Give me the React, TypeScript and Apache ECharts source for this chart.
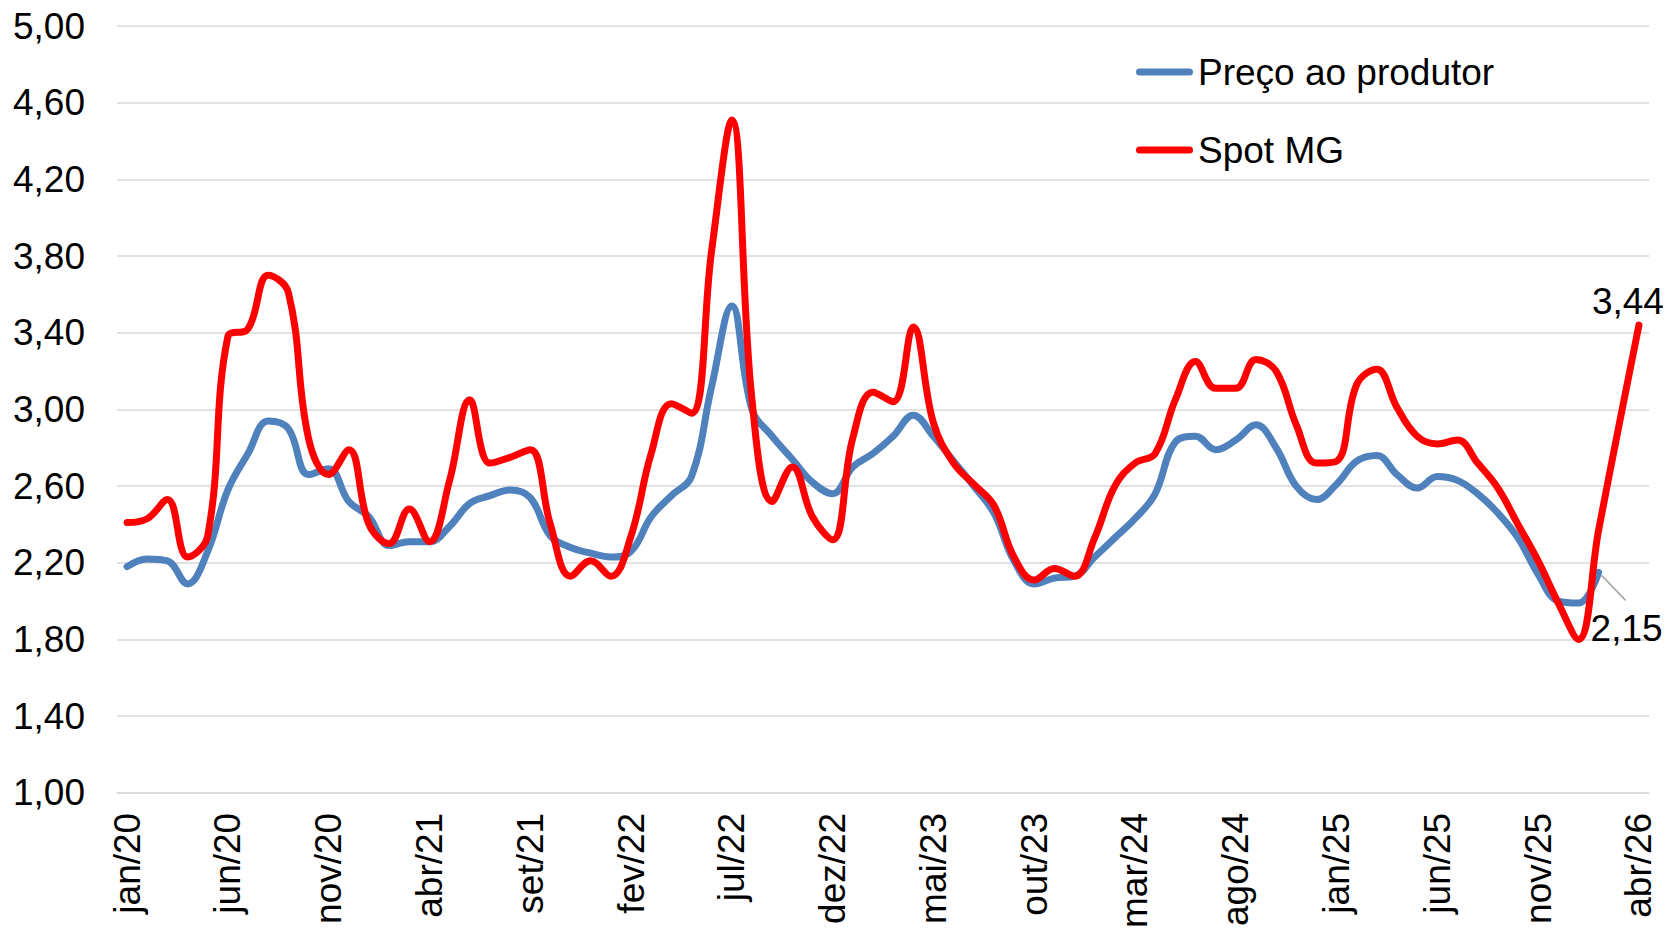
import React, { useEffect, useRef } from "react";
import * as echarts from "echarts";

const MONTHS = ["jan", "fev", "mar", "abr", "mai", "jun", "jul", "ago", "set", "out", "nov", "dez"];
const YEARS = ["20", "21", "22", "23", "24", "25", "26"];
const categories: string[] = [];
YEARS.forEach((y) => MONTHS.forEach((m) => categories.push(m + "/" + y)));
categories.length = 76; // jan/20 .. abr/26

const seriesNames = ["Preço ao produtor", "Spot MG"];

const produtor = [
  2.18, 2.22, 2.21, 2.09, 2.26, 2.58, 2.77, 2.94, 2.9, 2.66, 2.69, 2.52,
  2.44, 2.29, 2.31, 2.31, 2.39, 2.51, 2.55, 2.58, 2.54, 2.34, 2.28, 2.25,
  2.23, 2.26, 2.44, 2.55, 2.65, 3.12, 3.54, 3.0, 2.86, 2.74, 2.62, 2.56,
  2.7, 2.77, 2.86, 2.97, 2.86, 2.73, 2.6, 2.46, 2.21, 2.09, 2.12, 2.13,
  2.23, 2.33, 2.43, 2.56, 2.83, 2.86, 2.79, 2.84, 2.92, 2.8, 2.6, 2.53,
  2.61, 2.73, 2.76, 2.66, 2.59, 2.65, 2.63, 2.56, 2.46, 2.33, 2.14, 2.0,
  1.99, 2.15,
];

const spotMG = [
  2.41, 2.43, 2.53, 2.23, 2.34, 3.38, 3.42, 3.7, 3.61, 2.85, 2.66, 2.79,
  2.4, 2.3, 2.48, 2.31, 2.63, 3.05, 2.72, 2.75, 2.79, 2.4, 2.13, 2.21,
  2.13, 2.34, 2.77, 3.03, 2.98, 3.83, 4.51, 3.05, 2.52, 2.7, 2.44, 2.32,
  2.85, 3.09, 3.04, 3.43, 2.93, 2.72, 2.61, 2.5, 2.23, 2.11, 2.17, 2.13,
  2.33, 2.6, 2.72, 2.77, 3.05, 3.25, 3.11, 3.11, 3.26, 3.2, 2.92, 2.72,
  2.73, 3.13, 3.21, 3.01, 2.86, 2.82, 2.84, 2.72, 2.59, 2.4, 2.21, 1.99,
  1.8, 2.37, 2.91, 3.44,
];

const FONT = "'Liberation Sans', Arial, Helvetica, sans-serif";
const FS = 37;
const fmt = (v: number) => v.toFixed(2).replace(".", ",");
const CAPSULE = "path://M3.5,0 L53.5,0 A3.5,3.5 0 0 1 53.5,7 L3.5,7 A3.5,3.5 0 0 1 3.5,0 Z";

export default function App() {
  const ref = useRef<HTMLDivElement>(null);

  useEffect(() => {
    if (!ref.current) return;
    const chart = echarts.init(ref.current, null, { renderer: "svg" });

    const labelStyle = {
      show: true,
      color: "#000",
      fontSize: FS,
      lineHeight: 36,
      fontFamily: FONT,
      formatter: (p: any) => fmt(Number(p.value)),
    };

    const blueData = produtor.map((v, i) =>
      i === produtor.length - 1
        ? {
            value: v,
            symbol: "circle",
            symbolSize: 2,
            label: { ...labelStyle, position: "bottom", offset: [28, 32] },
          }
        : v
    );
    const redData = spotMG.map((v, i) =>
      i === spotMG.length - 1
        ? {
            value: v,
            symbol: "circle",
            symbolSize: 2,
            label: { ...labelStyle, position: "top", offset: [-11, 0] },
          }
        : v
    );

    const option: any = {
      animation: false,
      backgroundColor: "#fff",
      textStyle: { fontFamily: FONT },
      grid: { left: 117, right: 16, top: 26, bottom: 137.6, containLabel: false },
      legend: {
        orient: "vertical",
        left: 1131,
        top: 47,
        itemWidth: 57,
        itemHeight: 7,
        itemGap: 38,
        icon: CAPSULE,
        data: seriesNames,
        textStyle: { fontSize: FS, lineHeight: 40, color: "#000", fontFamily: FONT },
      },
      xAxis: {
        type: "category",
        data: categories,
        boundaryGap: true,
        axisLine: { show: true, lineStyle: { color: "#D9D9D9", width: 1.5 } },
        axisTick: { show: false },
        axisLabel: {
          interval: 4,
          rotate: 90,
          margin: 20,
          fontSize: FS,
          color: "#000",
          fontFamily: FONT,
        },
        splitLine: { show: false },
      },
      yAxis: {
        type: "value",
        min: 1,
        max: 5,
        interval: 0.4,
        axisLine: { show: false },
        axisTick: { show: false },
        axisLabel: {
          margin: 32,
          fontSize: FS,
          color: "#000",
          fontFamily: FONT,
          formatter: (v: number) => fmt(v),
        },
        splitLine: { show: true, lineStyle: { color: "#D9D9D9", width: 1.5 } },
      },
      series: [
        {
          name: seriesNames[0],
          type: "line",
          data: blueData,
          smooth: 0.4,
          symbol: "none",
          color: "#4F81BD",
          lineStyle: { color: "#4F81BD", width: 7, cap: "round", join: "round" },
          itemStyle: { color: "#4F81BD" },
          z: 2,
        },
        {
          name: seriesNames[1],
          type: "line",
          data: redData,
          smooth: 0.4,
          symbol: "none",
          color: "#FF0000",
          lineStyle: { color: "#FF0000", width: 7, cap: "round", join: "round" },
          itemStyle: { color: "#FF0000" },
          z: 3,
        },
      ],
    };

    chart.setOption(option);

    const last = produtor.length - 1;
    const p = chart.convertToPixel({ xAxisIndex: 0, yAxisIndex: 0 }, [last, produtor[last]]) as number[];
    if (p && isFinite(p[0]) && isFinite(p[1])) {
      chart.setOption({
        graphic: [
          {
            type: "line",
            shape: { x1: p[0] + 3, y1: p[1] + 3, x2: p[0] + 27, y2: p[1] + 28 },
            style: { stroke: "#A6A6A6", lineWidth: 1.5 },
            z: 1,
          },
        ],
      });
    }

    return () => {
      chart.dispose();
    };
  }, []);

  return (
    <div
      ref={ref}
      style={{ position: "absolute", left: 0, top: 0, width: 1665, height: 931, background: "#fff" }}
    />
  );
}
